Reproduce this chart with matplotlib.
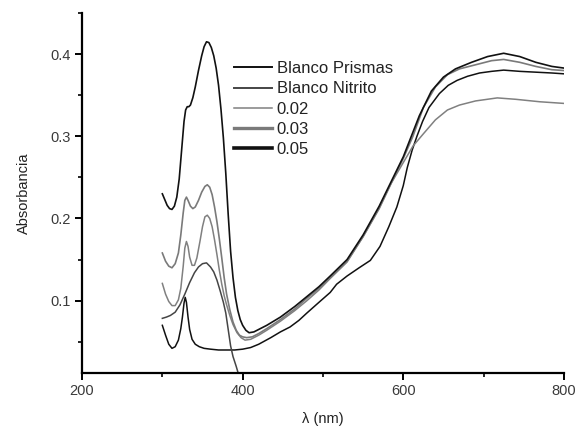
import matplotlib
matplotlib.use("Agg")
import matplotlib.pyplot as plt
from matplotlib.ticker import MultipleLocator
from matplotlib.lines import Line2D

plt.rcParams['font.family'] = ['Liberation Sans', 'DejaVu Sans']

# ---- data ----
labels = ["Blanco Prismas", "Blanco Nitrito", "0.02", "0.03", "0.05"]

x_prismas = [300, 304, 308, 312, 316, 320, 323, 325, 327, 328.5, 330, 332, 334, 337, 341, 346, 352, 360,
             370, 380, 390, 400, 410, 420, 435, 447, 459, 470, 480, 495, 509, 517, 530, 545, 559, 571,
             582, 592, 600, 605, 611, 617, 624, 632, 645, 656, 667, 680, 695, 710, 725, 745, 765, 785, 800]
y_prismas = [0.070, 0.058, 0.047, 0.042, 0.044, 0.052, 0.066, 0.080, 0.097, 0.104, 0.098, 0.080, 0.065,
             0.053, 0.047, 0.044, 0.042, 0.041, 0.040, 0.040, 0.040, 0.041, 0.043, 0.047, 0.055, 0.062,
             0.068, 0.076, 0.085, 0.098, 0.110, 0.120, 0.130, 0.140, 0.149, 0.166, 0.190, 0.214, 0.240,
             0.262, 0.283, 0.300, 0.318, 0.335, 0.352, 0.362, 0.368, 0.373, 0.377, 0.379, 0.3805, 0.379,
             0.378, 0.377, 0.376]

x_nitrito = [300, 305, 310, 316, 322, 328, 334, 340, 345, 350, 355, 360, 364, 368, 372, 376, 379, 382,
             385, 388, 392, 395, 398, 402]
y_nitrito = [0.0785, 0.080, 0.082, 0.086, 0.095, 0.108, 0.122, 0.134, 0.141, 0.145, 0.146, 0.141, 0.135,
             0.125, 0.112, 0.098, 0.085, 0.065, 0.045, 0.032, 0.020, 0.010, 0.000, -0.015]

x_002 = [300, 304, 308, 312, 316, 320, 323, 326, 328, 330, 332, 334, 337, 340, 343, 347, 350, 353, 356,
         359, 362, 365, 368, 371, 374, 377, 380, 384, 388, 393, 398, 403, 410, 420, 430, 447, 465, 480,
         495, 509, 530, 550, 570, 585, 600, 612, 625, 640, 655, 670, 690, 717, 740, 770, 800]
y_002 = [0.121, 0.108, 0.099, 0.094, 0.094, 0.101, 0.115, 0.142, 0.164, 0.172, 0.166, 0.153, 0.143,
         0.143, 0.152, 0.173, 0.190, 0.202, 0.204, 0.200, 0.190, 0.174, 0.156, 0.137, 0.120, 0.106,
         0.095, 0.082, 0.071, 0.061, 0.055, 0.052, 0.053, 0.058, 0.064, 0.075, 0.088, 0.100, 0.113,
         0.127, 0.147, 0.178, 0.213, 0.243, 0.268, 0.288, 0.303, 0.320, 0.332, 0.338, 0.343, 0.3467,
         0.345, 0.342, 0.340]

x_003 = [300, 304, 308, 312, 316, 320, 323, 326, 328, 330, 332, 335, 338, 341, 345, 349, 353, 356, 359,
         362, 365, 368, 371, 374, 377, 380, 384, 388, 392, 396, 400, 405, 412, 420, 430, 447, 465, 480,
         495, 509, 530, 550, 570, 585, 600, 612, 625, 640, 655, 670, 690, 710, 725, 745, 765, 785, 800]
y_003 = [0.158, 0.148, 0.142, 0.140, 0.145, 0.158, 0.180, 0.207, 0.222, 0.226, 0.222, 0.215, 0.212,
         0.214, 0.222, 0.232, 0.239, 0.241, 0.238, 0.229, 0.214, 0.196, 0.175, 0.152, 0.128, 0.108,
         0.089, 0.074, 0.064, 0.058, 0.056, 0.055, 0.056, 0.060, 0.066, 0.077, 0.090, 0.103, 0.115,
         0.128, 0.148, 0.178, 0.212, 0.243, 0.273, 0.300, 0.335, 0.360, 0.375, 0.382, 0.387, 0.392,
         0.3935, 0.390, 0.385, 0.381, 0.380]

x_005 = [300, 303, 306, 309, 312, 315, 318, 321, 324, 327, 329, 331, 333, 335, 338, 341, 345, 349, 352,
         355, 358, 361, 364, 367, 370, 373, 376, 379, 382, 385, 388, 391, 394, 397, 400, 404, 408, 414,
         420, 430, 447, 465, 480, 495, 509, 530, 550, 570, 585, 600, 610, 620, 635, 650, 665, 685, 705,
         725, 745, 765, 785, 800]
y_005 = [0.230, 0.223, 0.216, 0.212, 0.211, 0.215, 0.226, 0.248, 0.283, 0.318, 0.332, 0.336, 0.336,
         0.338, 0.347, 0.360, 0.380, 0.398, 0.409, 0.415, 0.414, 0.408, 0.398, 0.383, 0.362, 0.333,
         0.298, 0.255, 0.205, 0.160, 0.128, 0.104, 0.088, 0.077, 0.070, 0.064, 0.061, 0.062, 0.065,
         0.070, 0.080, 0.093, 0.105, 0.117, 0.130, 0.150, 0.180, 0.215, 0.245, 0.275, 0.300, 0.325,
         0.355, 0.372, 0.382, 0.390, 0.397, 0.401, 0.397, 0.390, 0.385, 0.383]

series_x = [x_prismas, x_nitrito, x_002, x_003, x_005]
series_y = [y_prismas, y_nitrito, y_002, y_003, y_005]
colors = ["#111111", "#454545", "#808080", "#7a7a7a", "#111111"]
plot_widths = [1.1, 1.1, 1.1, 1.2, 1.2]
legend_widths = [1.4, 1.4, 1.1, 2.4, 2.6]

fig = plt.figure(figsize=(5.76, 4.26), dpi=100)
ax = fig.add_axes([0.1424, 0.1244, 0.8366, 0.8451])

for xs, ys, c, lw in zip(series_x, series_y, colors, plot_widths):
    ax.plot(xs, ys, color=c, lw=lw)

ax.set_xlim(200, 800)
ax.set_ylim(0.012, 0.45)
ax.xaxis.set_major_locator(MultipleLocator(200))
ax.xaxis.set_minor_locator(MultipleLocator(100))
ax.yaxis.set_major_locator(MultipleLocator(0.1))
ax.yaxis.set_minor_locator(MultipleLocator(0.05))

for s in ["top", "right"]:
    ax.spines[s].set_visible(False)
for s in ["left", "bottom"]:
    ax.spines[s].set_linewidth(1.6)

ax.tick_params(which="major", direction="out", length=5, width=1.4, labelsize=10.5,
               labelcolor="#3a3a3a", pad=3)
ax.tick_params(which="minor", direction="out", length=3, width=1.2)

ax.set_xlabel("λ (nm)", fontsize=10.5, color="#222222", labelpad=10)
ax.set_ylabel("Absorbancia", fontsize=10.5, color="#222222", labelpad=14)

handles = [Line2D([], [], color=c, lw=lw) for c, lw in zip(colors, legend_widths)]
leg = ax.legend(handles, labels, loc="upper left", bbox_to_anchor=(0.316, 0.866), frameon=False,
                fontsize=12, handlelength=2.25, handletextpad=0.3, labelspacing=0.31, borderpad=0,
                borderaxespad=0)
for t in leg.get_texts():
    t.set_color("#222222")

fig.savefig("out.png", dpi=100)
